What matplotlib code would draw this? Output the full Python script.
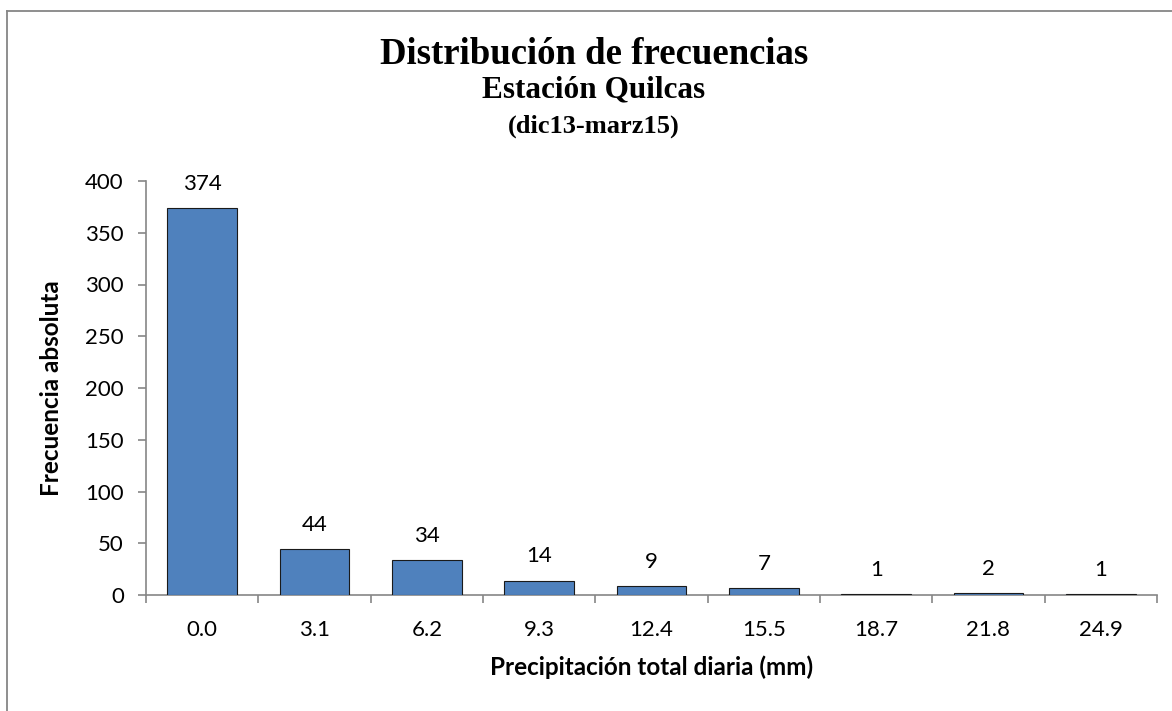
import matplotlib
matplotlib.use("Agg")
import matplotlib.pyplot as plt
from matplotlib.lines import Line2D

# Frequency distribution of daily rainfall, Quilcas station
class_marks = ["0.0", "3.1", "6.2", "9.3", "12.4", "15.5", "18.7", "21.8", "24.9"]
frequencies = [374, 44, 34, 14, 9, 7, 1, 2, 1]
y_ticks = [0, 50, 100, 150, 200, 250, 300, 350, 400]

title_lines = ["Distribución de frecuencias", "Estación Quilcas", "(dic13-marz15)"]
x_label = "Precipitación total diaria (mm)"
y_label = "Frecuencia absoluta"

W, H = 1172, 711
fig = plt.figure(figsize=(W / 100, H / 100), dpi=100)
fig.patch.set_facecolor("white")

ax = fig.add_axes([146 / W, 1 - 595 / H, 1011 / W, 414 / H])

grey = "#868686"
sans = ["Lato", "DejaVu Sans"]
serif = ["Liberation Serif", "DejaVu Serif"]

positions = list(range(len(class_marks)))
ax.bar(positions, frequencies, width=0.62, color="#4F81BD",
       edgecolor="#1a1a1a", linewidth=0.8, zorder=3)

for pos, val in zip(positions, frequencies):
    ax.annotate(str(val), xy=(pos, val), xytext=(0, 13), textcoords="offset points",
                ha="center", va="baseline", fontsize=16, family=sans, color="black")

ax.set_xlim(-0.5, len(class_marks) - 0.5)
ax.set_ylim(0, 400)
ax.set_yticks(y_ticks)
ax.set_yticklabels([str(t) for t in y_ticks], family=sans, fontsize=16)

# category labels at centres, tick marks at category boundaries
ax.set_xticks(positions)
ax.set_xticklabels(class_marks, family=sans, fontsize=16)
ax.set_xticks([p - 0.5 for p in range(len(class_marks) + 1)], minor=True)
ax.tick_params(axis="x", which="major", length=0, pad=18)
ax.tick_params(axis="x", which="minor", length=6, width=1.2, color=grey, direction="out")
ax.tick_params(axis="y", length=6, width=1.2, color=grey, direction="out", pad=10)

for side in ("top", "right"):
    ax.spines[side].set_visible(False)
for side in ("left", "bottom"):
    ax.spines[side].set_color(grey)
    ax.spines[side].set_linewidth(1.2)

ax.set_xlabel(x_label, family=sans, fontsize=17.5, fontweight="bold", labelpad=11)
ax.set_ylabel(y_label, family=sans, fontsize=17.5, fontweight="bold", va="center")
ax.yaxis.set_label_coords(52 / W, 0.5 * (1 - 595 / H + 1 - 181 / H), transform=fig.transFigure)

# three-line title
cx = 594 / W
fig.text(cx, 1 - 64 / H, title_lines[0], ha="center", va="baseline",
         family=serif, fontsize=26.5, fontweight="bold")
fig.text(cx, 1 - 97 / H, title_lines[1], ha="center", va="baseline",
         family=serif, fontsize=22.5, fontweight="bold")
fig.text(cx, 1 - 133 / H, title_lines[2], ha="center", va="baseline",
         family=serif, fontsize=19, fontweight="bold")

# chart-area frame (top and left edges)
fig.add_artist(Line2D([6.5 / W, 1], [1 - 10.5 / H, 1 - 10.5 / H],
                      transform=fig.transFigure, color=grey, linewidth=1.3))
fig.add_artist(Line2D([6.5 / W, 6.5 / W], [0, 1 - 10.5 / H],
                      transform=fig.transFigure, color=grey, linewidth=1.3))

fig.savefig("out.png", dpi=100, facecolor="white")
